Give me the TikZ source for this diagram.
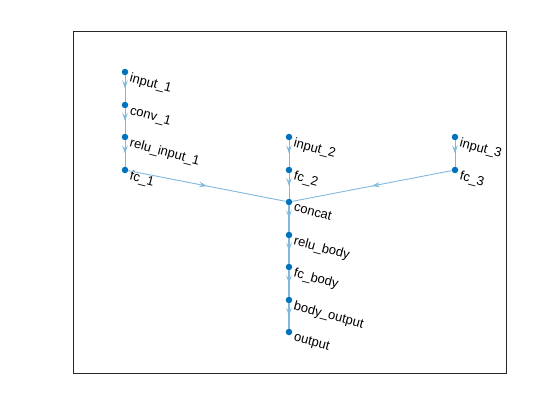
\documentclass[tikz,border=0pt]{standalone}
\usepackage{fontspec}
\setmainfont{Liberation Sans}
\usetikzlibrary{arrows.meta}
\usetikzlibrary{decorations.markings}

\definecolor{nodeblue}{RGB}{0,114,189}
\definecolor{edgeblue}{RGB}{128,185,222}

\begin{document}
\begin{tikzpicture}[
    x=1pt, y=-1pt,
    main node/.style={circle, fill=nodeblue, draw=none, minimum size=6.5pt, inner sep=0pt},
    name label/.style={label={[rotate=-15, anchor=north west, inner sep=0pt, xshift=3pt, yshift=0.5pt, font=\fontsize{13}{15}\selectfont]0:#1}},
    edge/.style={draw=edgeblue, line width=0.9pt,
      postaction={decorate},
      decoration={markings, mark=at position 0.5 with {\arrow{Stealth[length=8pt, width=5.5pt, inset=3pt]}}}},
    ]
  \useasboundingbox (0,0) rectangle (560,420);
  \draw[line width=0.6pt, black!85] (73,31) rectangle (506,373);

  \node[main node, name label=input\_1] (input1) at (125,72) {};
  \node[main node, name label=conv\_1] (conv1) at (125,105) {};
  \node[main node, name label=relu\_input\_1] (relu1) at (125,137) {};
  \node[main node, name label=fc\_1] (fc1) at (125,170) {};

  \node[main node, name label=input\_2] (input2) at (289,137) {};
  \node[main node, name label=fc\_2] (fc2) at (289,170) {};
  \node[main node, name label=concat] (concat) at (289,202) {};
  \node[main node, name label=relu\_body] (relubody) at (289,235) {};
  \node[main node, name label=fc\_body] (fcbody) at (289,267) {};
  \node[main node, name label=body\_output] (bodyout) at (289,300) {};
  \node[main node, name label=output] (output) at (289,332) {};

  \node[main node, name label=input\_3] (input3) at (455,137) {};
  \node[main node, name label=fc\_3] (fc3) at (455,170) {};

  \path[edge] (input1) -- (conv1);
  \path[edge] (conv1) -- (relu1);
  \path[edge] (relu1) -- (fc1);
  \path[edge] (fc1) -- (concat);
  \path[edge] (input2) -- (fc2);
  \path[edge] (fc2) -- (concat);
  \path[edge] (input3) -- (fc3);
  \path[edge] (fc3) -- (concat);
  \path[edge, line width=1.3pt] (concat) -- (relubody);
  \path[edge, line width=1.3pt] (relubody) -- (fcbody);
  \path[edge, line width=1.3pt] (fcbody) -- (bodyout);
  \path[edge, line width=1.3pt] (bodyout) -- (output);
\end{tikzpicture}
\end{document}
